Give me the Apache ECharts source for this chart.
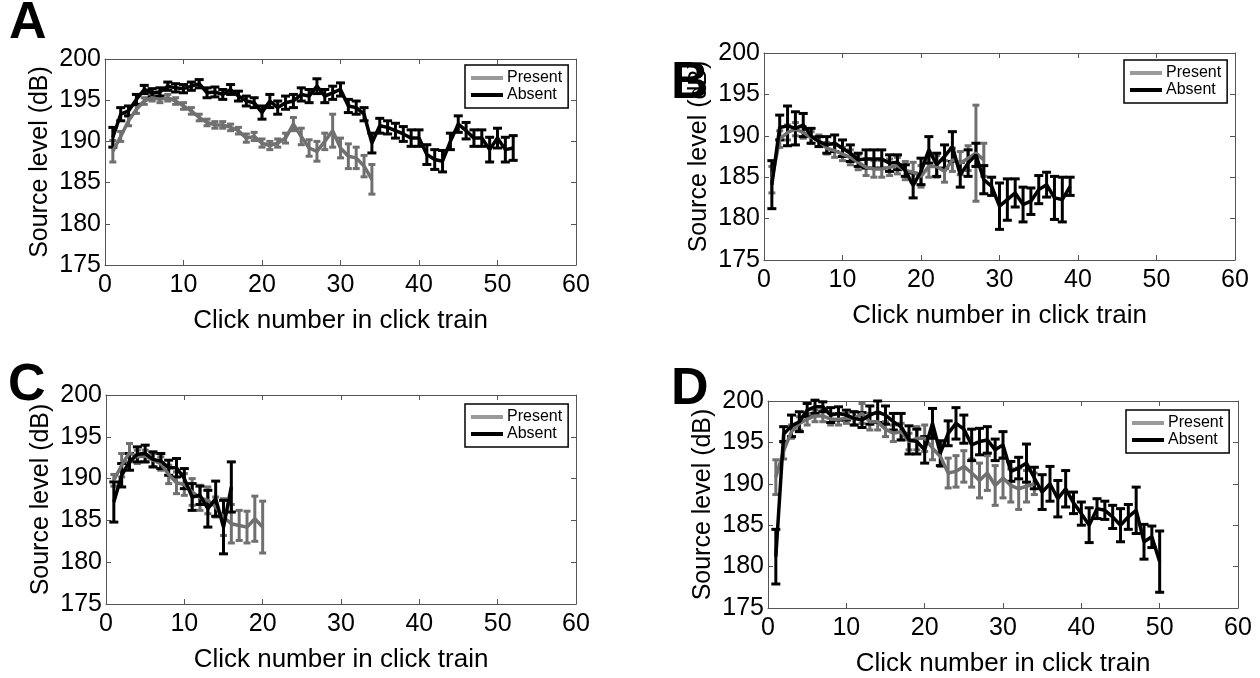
<!DOCTYPE html>
<html><head><meta charset="utf-8">
<script src="https://cdn.jsdelivr.net/npm/echarts@6/dist/echarts.min.js"></script>
<style>html,body{margin:0;padding:0;background:#fff}#c{width:1260px;height:678px}</style>
</head><body><div id="c"></div>
<script>
// ---- data ----
const panelLetters = ['A', 'B', 'C', 'D'];
const seriesNames = ['Present', 'Absent'];
const xAxisTitle = 'Click number in click train';
const yAxisTitle = 'Source level (dB)';
const xMin = 0, xMax = 60, xStep = 10;
const yMin = 175, yMax = 200, yStep = 5;

const aPresent = [188.8,190.6,192.5,193.9,194.9,195.3,195.1,195.3,194.9,194.3,193.7,192.9,192.3,192.0,192.0,191.7,191.3,190.4,190.6,189.8,189.5,189.8,190.4,192.1,190.6,189.2,188.8,190.0,191.3,189.2,188.2,188.0,187.0,185.4];
const aPresentErr = [1.3,0.6,0.6,0.5,0.4,0.4,0.4,0.4,0.4,0.4,0.4,0.4,0.4,0.4,0.4,0.4,0.4,0.5,0.5,0.5,0.5,0.5,0.6,0.8,1.0,1.0,1.2,1.0,2.0,1.2,1.5,1.3,1.3,1.8];
const aAbsent = [190.5,193.3,193.7,195.1,196.3,195.9,196.0,196.7,196.5,196.4,196.7,197.0,195.9,196.0,195.7,196.3,195.5,194.9,194.7,193.5,194.9,194.1,194.7,194.9,195.7,195.5,196.7,195.5,195.9,196.3,194.3,194.1,193.3,189.8,191.9,191.7,191.3,190.9,190.4,190.4,188.4,187.8,187.6,190.0,192.1,191.3,190.4,190.4,189.0,190.4,189.0,189.2];
const aAbsentErr = [1.2,0.8,0.6,0.6,0.5,0.5,0.5,0.5,0.5,0.5,0.5,0.5,0.6,0.6,0.6,0.6,0.6,0.6,0.6,0.8,0.8,0.8,0.8,0.8,0.8,0.8,0.9,0.8,0.8,0.8,0.8,0.8,0.8,1.2,0.9,0.8,0.9,0.9,1.0,1.0,1.2,1.2,1.3,1.0,1.0,1.0,1.0,1.0,1.5,1.2,1.5,1.5];

const bPresent = [184.7,189.6,190.4,190.8,190.4,189.8,189.4,188.5,188.2,187.8,187.4,186.8,186.2,186.0,186.0,186.2,186.4,185.8,185.6,185.1,186.3,186.3,185.7,187.1,186.7,187.3,187.9,187.1];
const bPresentErr = [1.6,1.0,0.9,0.8,0.7,0.7,0.7,0.7,0.8,0.8,0.9,0.9,1.0,1.0,1.0,1.0,1.0,1.1,1.2,1.3,1.3,1.3,1.3,1.4,1.4,1.5,5.8,2.0];
const bAbsent = [184.1,191.0,191.2,190.9,191.3,190.0,189.3,188.9,189.1,188.5,187.9,187.1,187.2,187.2,187.2,186.7,186.8,185.8,184.0,185.7,188.3,186.5,187.5,188.7,185.3,186.7,187.7,184.7,183.9,181.5,182.3,183.1,181.7,182.1,183.5,184.1,182.5,182.3,183.9];
const bAbsentErr = [2.9,1.5,2.4,2.0,1.4,0.9,0.6,1.0,1.0,1.0,1.0,0.8,1.1,1.1,1.1,1.0,0.9,0.7,1.5,1.6,1.6,1.4,1.4,1.8,1.5,1.6,1.4,1.7,1.1,2.8,2.5,1.7,2.1,1.6,1.7,1.5,2.6,2.7,1.1];

const cPresent = [189.8,191.6,193.1,192.6,192.7,192.2,191.8,190.5,189.5,189.3,188.4,187.7,187.4,186.6,185.4,184.6,184.4,184.2,185.2,184.2];
const cPresentErr = [0.7,1.4,1.1,0.8,0.7,0.8,0.8,1.1,1.3,1.3,1.6,1.5,1.6,1.2,2.2,2.3,1.8,1.9,2.7,3.1];
const cAbsent = [187.2,190.4,192.0,192.9,193.0,192.3,192.1,191.3,191.3,190.0,187.8,188.0,186.4,187.6,184.2,189.0];
const cAbsentErr = [2.4,1.4,1.0,0.9,1.0,0.9,0.9,0.9,1.1,1.2,1.6,1.1,2.2,2.1,3.2,3.0];

const dPresent = [190.8,194.0,196.3,197.3,197.8,198.2,198.2,197.8,197.8,197.9,197.9,198.5,197.5,197.5,196.6,196.1,196.3,195.1,195.5,195.5,194.3,193.3,191.3,191.5,192.1,191.3,190.4,191.3,189.8,190.7,189.8,189.4,189.7,190.0];
const dPresentErr = [2.1,1.0,0.8,0.8,0.7,0.7,0.7,0.7,0.7,0.6,0.8,1.2,1.0,1.0,0.9,1.0,1.0,1.0,1.4,1.6,1.4,1.2,1.8,1.9,1.9,1.7,2.1,2.1,2.4,2.4,2.0,2.5,1.9,1.3];
const dAbsent = [181.2,196.0,197.0,197.5,198.9,199.3,199.3,198.3,198.5,198.3,197.9,197.7,198.3,198.7,198.3,197.5,196.9,195.3,195.1,194.1,197.3,193.7,196.1,197.3,196.6,194.7,195.1,195.3,194.1,194.7,191.5,191.9,192.5,190.7,189.0,190.0,188.2,189.4,187.7,186.4,185.0,187.0,186.8,186.0,185.0,186.0,186.8,183.0,183.6,180.6];
const dAbsentErr = [3.3,0.9,1.3,1.2,0.8,0.8,0.6,0.9,0.8,0.6,0.8,0.9,1.1,1.3,1.1,1.0,1.6,1.7,1.5,1.6,1.8,1.5,1.5,1.9,1.7,1.9,1.6,1.6,1.3,1.6,1.2,1.3,2.3,1.3,2.1,2.1,2.2,2.2,1.3,1.4,2.1,1.2,1.1,1.4,2.0,1.5,2.8,2.1,1.3,3.7];

const panels = [
  {present: aPresent, presentErr: aPresentErr, absent: aAbsent, absentErr: aAbsentErr},
  {present: bPresent, presentErr: bPresentErr, absent: bAbsent, absentErr: bAbsentErr},
  {present: cPresent, presentErr: cPresentErr, absent: cAbsent, absentErr: cAbsentErr},
  {present: dPresent, presentErr: dPresentErr, absent: dAbsent, absentErr: dAbsentErr}
];

// ---- layout / style ----
const FONT = 'Liberation Sans, Arial, Helvetica, sans-serif';
const grids = [
  {left: 105, top: 59, width: 471, height: 206},
  {left: 764, top: 53, width: 471, height: 207},
  {left: 106, top: 395, width: 470, height: 209},
  {left: 768, top: 401, width: 470, height: 209}
];
const legendPos = [
  {left: 465, top: 65}, {left: 1124, top: 60}, {left: 465, top: 404}, {left: 1126, top: 410}
];
const letterPos = [
  {left: 9, top: -2}, {left: 671, top: 58}, {left: 8, top: 360}, {left: 671, top: 364}
];
const GRAY = '#707070', GRAY_LEGEND = '#9a9a9a', BLACK = '#000';
const AXIS = '#555';

function errRender(color, cap) {
  return function (params, api) {
    const x = api.value(0), lo = api.value(1), hi = api.value(2);
    const p1 = api.coord([x, hi]), p2 = api.coord([x, lo]);
    const style = {stroke: color, lineWidth: 3, fill: null};
    return {type: 'group', children: [
      {type: 'line', shape: {x1: p1[0], y1: p1[1], x2: p2[0], y2: p2[1]}, style: style},
      {type: 'line', shape: {x1: p1[0] - cap, y1: p1[1], x2: p1[0] + cap, y2: p1[1]}, style: style},
      {type: 'line', shape: {x1: p2[0] - cap, y1: p2[1], x2: p2[0] + cap, y2: p2[1]}, style: style}
    ]};
  };
}

const xAxis = [], yAxis = [], series = [], legend = [], title = [];
grids.forEach(function (g, i) {
  const common = {min: xMin, max: xMax, interval: xStep, gridIndex: i, type: 'value',
    axisLine: {show: true, onZero: false, lineStyle: {color: AXIS, width: 1}},
    axisTick: {show: true, inside: true, length: 5, lineStyle: {color: AXIS}},
    splitLine: {show: false}};
  xAxis.push(Object.assign({}, common, {position: 'bottom',
    axisLabel: {show: true, fontSize: 25, color: '#000', fontFamily: FONT, margin: 8},
    name: xAxisTitle, nameLocation: 'middle', nameGap: 43,
    nameTextStyle: {fontSize: 26, color: '#000', fontFamily: FONT}}));
  xAxis.push(Object.assign({}, common, {position: 'top', axisLabel: {show: false}}));
  const ycommon = {min: yMin, max: yMax, interval: yStep, gridIndex: i, type: 'value',
    axisLine: {show: true, onZero: false, lineStyle: {color: AXIS, width: 1}},
    axisTick: {show: true, inside: true, length: 5, lineStyle: {color: AXIS}},
    splitLine: {show: false}};
  yAxis.push(Object.assign({}, ycommon, {position: 'left',
    axisLabel: {show: true, fontSize: 25, color: '#000', fontFamily: FONT, margin: 4},
    name: yAxisTitle, nameLocation: 'middle', nameGap: 52, nameRotate: 90,
    nameTextStyle: {fontSize: 25, color: '#000', fontFamily: FONT}}));
  yAxis.push(Object.assign({}, ycommon, {position: 'right', axisLabel: {show: false}}));

  const p = panels[i];
  const sets = [
    {name: seriesNames[0], vals: p.present, errs: p.presentErr, color: GRAY, cap: 3.5},
    {name: seriesNames[1], vals: p.absent, errs: p.absentErr, color: BLACK, cap: 4.5}
  ];
  sets.forEach(function (s) {
    series.push({type: 'line', name: s.name, xAxisIndex: 2 * i, yAxisIndex: 2 * i,
      data: s.vals.map(function (v, k) { return [k + 1, v]; }),
      showSymbol: false, symbol: 'none', silent: true, animation: false,
      lineStyle: {color: s.color, width: 3.5}, itemStyle: {color: s.color}, z: 3});
    series.push({type: 'custom', name: s.name + ' error', xAxisIndex: 2 * i, yAxisIndex: 2 * i,
      data: s.vals.map(function (v, k) { return [k + 1, v - s.errs[k], v + s.errs[k]]; }),
      encode: {x: 0, y: [1, 2]}, renderItem: errRender(s.color, s.cap), silent: true,
      animation: false, z: 3});
  });

  legend.push({left: legendPos[i].left, top: legendPos[i].top, orient: 'vertical',
    backgroundColor: '#fff', borderColor: '#000', borderWidth: 1.5,
    padding: [5, 6, 5, 6], itemGap: 1, itemWidth: 32, itemHeight: 4, icon: 'rect',
    selectedMode: false,
    textStyle: {fontSize: 16, color: '#000', fontFamily: FONT, padding: [0, 0, 0, -1]},
    data: [
      {name: seriesNames[0], itemStyle: {color: GRAY_LEGEND}},
      {name: seriesNames[1], itemStyle: {color: BLACK}}
    ]});
  title.push({text: panelLetters[i], left: letterPos[i].left, top: letterPos[i].top,
    padding: 0, textStyle: {fontSize: 52, fontWeight: 'bold', color: '#000', fontFamily: FONT}});
});

const chart = echarts.init(document.getElementById('c'), null, {renderer: 'canvas'});
chart.setOption({
  animation: false,
  backgroundColor: '#fff',
  title: title,
  legend: legend,
  grid: grids,
  xAxis: xAxis,
  yAxis: yAxis,
  series: series
});
</script>
</body></html>
